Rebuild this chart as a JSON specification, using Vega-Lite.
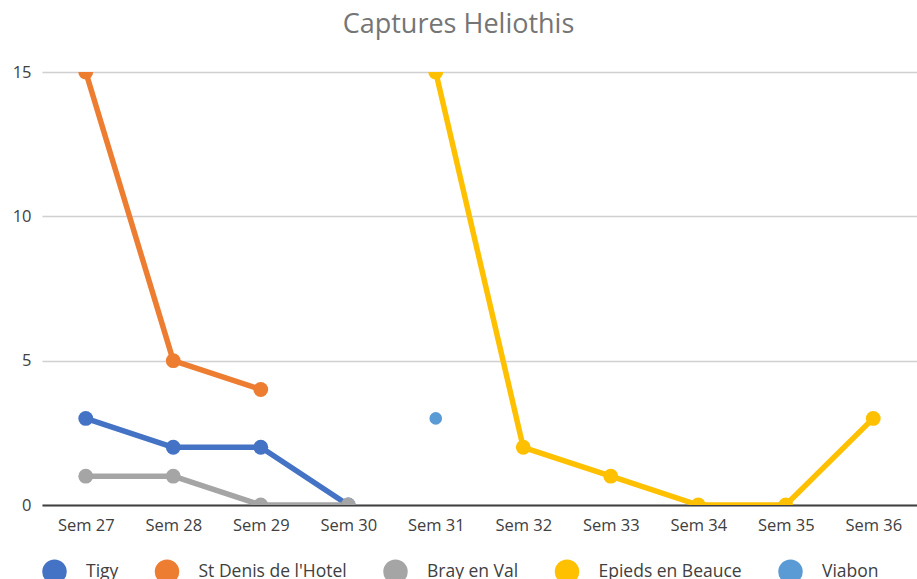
{
  "$schema": "https://vega.github.io/schema/vega-lite/v6.json",
  "autosize": {"type": "none"},
  "padding": {"left": 42, "top": 72, "right": 0, "bottom": 74},
  "width": 875,
  "height": 433,
  "background": "white",
  "title": {
    "text": "Captures Heliothis",
    "fontSize": 27,
    "font": "Open Sans",
    "fontWeight": "normal",
    "color": "#757575",
    "anchor": "middle",
    "dx": -21,
    "offset": 25
  },
  "config": {
    "view": {"stroke": null},
    "font": "Open Sans"
  },
  "data": {
    "values": [
      {"serie": "Tigy", "semaine": "Sem 27", "captures": 3},
      {"serie": "Tigy", "semaine": "Sem 28", "captures": 2},
      {"serie": "Tigy", "semaine": "Sem 29", "captures": 2},
      {"serie": "Tigy", "semaine": "Sem 30", "captures": 0},
      {"serie": "St Denis de l'Hotel", "semaine": "Sem 27", "captures": 15},
      {"serie": "St Denis de l'Hotel", "semaine": "Sem 28", "captures": 5},
      {"serie": "St Denis de l'Hotel", "semaine": "Sem 29", "captures": 4},
      {"serie": "Bray en Val", "semaine": "Sem 27", "captures": 1},
      {"serie": "Bray en Val", "semaine": "Sem 28", "captures": 1},
      {"serie": "Bray en Val", "semaine": "Sem 29", "captures": 0},
      {"serie": "Bray en Val", "semaine": "Sem 30", "captures": 0},
      {"serie": "Epieds en Beauce", "semaine": "Sem 31", "captures": 15},
      {"serie": "Epieds en Beauce", "semaine": "Sem 32", "captures": 2},
      {"serie": "Epieds en Beauce", "semaine": "Sem 33", "captures": 1},
      {"serie": "Epieds en Beauce", "semaine": "Sem 34", "captures": 0},
      {"serie": "Epieds en Beauce", "semaine": "Sem 35", "captures": 0},
      {"serie": "Epieds en Beauce", "semaine": "Sem 36", "captures": 3},
      {"serie": "Viabon", "semaine": "Sem 31", "captures": 3}
    ]
  },
  "encoding": {
    "x": {
      "field": "semaine",
      "type": "ordinal",
      "sort": ["Sem 27", "Sem 28", "Sem 29", "Sem 30", "Sem 31", "Sem 32", "Sem 33", "Sem 34", "Sem 35", "Sem 36"],
      "scale": {"type": "point", "padding": 0.5, "domain": ["Sem 27", "Sem 28", "Sem 29", "Sem 30", "Sem 31", "Sem 32", "Sem 33", "Sem 34", "Sem 35", "Sem 36"]},
      "axis": {
        "title": null,
        "labelAngle": 0,
        "ticks": false,
        "domain": true,
        "domainColor": "#404040",
        "domainWidth": 2,
        "labelFontSize": 16.5,
        "labelColor": "#404040",
        "labelPadding": 12,
        "grid": false
      }
    },
    "y": {
      "field": "captures",
      "type": "quantitative",
      "scale": {"domain": [0, 15], "nice": false, "zero": true},
      "axis": {
        "title": null,
        "values": [0, 5, 10, 15],
        "ticks": false,
        "domain": false,
        "grid": true,
        "gridColor": "#d0d0d0",
        "gridWidth": 1.5,
        "labelFontSize": 16.5,
        "labelColor": "#404040",
        "labelPadding": 11
      }
    },
    "color": {
      "field": "serie",
      "type": "nominal",
      "scale": {
        "domain": ["Tigy", "St Denis de l'Hotel", "Bray en Val", "Epieds en Beauce", "Viabon"],
        "range": ["#4472C4", "#ED7D31", "#A5A5A5", "#FFC000", "#5B9BD5"]
      },
      "legend": {
        "title": null,
        "orient": "none",
        "direction": "horizontal",
        "legendX": 0,
        "legendY": 487,
        "symbolType": "circle",
        "symbolSize": 600,
        "symbolStrokeWidth": 0,
        "labelFontSize": 17.5,
        "labelColor": "#404040",
        "labelOffset": 19,
        "columnPadding": 35.5,
        "labelLimit": 300
      }
    }
  },
  "layer": [
    {
      "mark": {"type": "line", "strokeWidth": 5.5, "clip": true, "strokeJoin": "round"}
    },
    {
      "transform": [{"filter": "datum.serie !== 'Viabon'"}],
      "mark": {"type": "point", "filled": true, "size": 220, "opacity": 1, "clip": true}
    },
    {
      "transform": [{"filter": "datum.serie === 'Viabon'"}],
      "mark": {"type": "point", "filled": true, "size": 160, "opacity": 1, "clip": true}
    }
  ]
}
